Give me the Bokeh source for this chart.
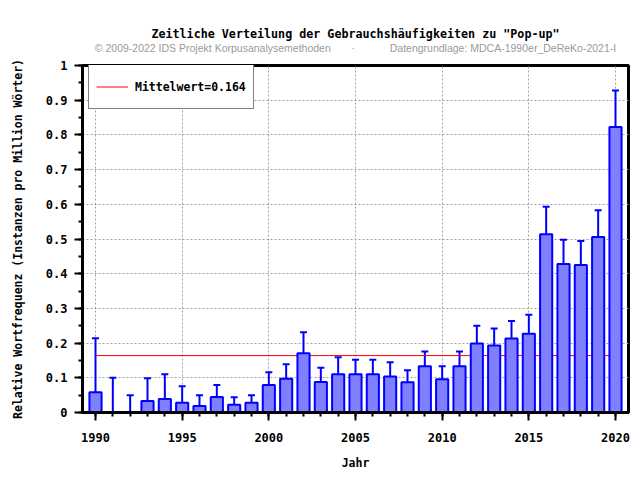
from bokeh.plotting import figure
from bokeh.models import (ColumnDataSource, Whisker, TeeHead, Legend, LegendItem, Title,
                          SingleIntervalTicker, NumeralTickFormatter, Range1d)
from bokeh.embed import file_html
from bokeh.resources import INLINE

years = list(range(1990, 2021))
freq = [0.058, 0.0, 0.0, 0.033, 0.039, 0.028, 0.019, 0.045, 0.022, 0.028,
        0.079, 0.097, 0.171, 0.088, 0.110, 0.110, 0.110, 0.104, 0.087, 0.133,
        0.096, 0.133, 0.199, 0.193, 0.213, 0.227, 0.514, 0.428, 0.425, 0.506,
        0.823]
lower = [0.015, 0.0, 0.0, 0.013, 0.013, 0.010, 0.005, 0.027, 0.010, 0.015,
         0.052, 0.064, 0.127, 0.058, 0.078, 0.078, 0.078, 0.078, 0.063, 0.101,
         0.067, 0.101, 0.162, 0.156, 0.171, 0.185, 0.452, 0.365, 0.362, 0.438,
         0.728]
upper = [0.214, 0.100, 0.050, 0.099, 0.110, 0.076, 0.050, 0.079, 0.044, 0.050,
         0.116, 0.139, 0.231, 0.129, 0.159, 0.152, 0.152, 0.145, 0.122, 0.176,
         0.133, 0.176, 0.250, 0.242, 0.264, 0.282, 0.593, 0.498, 0.494, 0.583,
         0.928]
mean_value = 0.164
legend_label = "Mittelwert=0.164"
title_text = 'Zeitliche Verteilung der Gebrauchshäufigkeiten zu "Pop-up"'
subtitle_text = ("© 2009-2022 IDS Projekt Korpusanalysemethoden"
                 + "\u00a0" * 7 + "·" + "\u00a0" * 12
                 + "Datengrundlage: MDCA-1990er_DeReKo-2021-I")
x_label = "Jahr"
y_label = "Relative Wortfrequenz (Instanzen pro Million Wörter)"

MONO = "DejaVu Sans Mono"

W, H = 632, 472
BL, BR, BT, BB = 82, 4, 65, 58
FW, FH = W - BL - BR, H - BT - BB

src = ColumnDataSource(dict(x=years, top=freq, lower=lower, upper=upper))

p = figure(width=W, height=H, output_backend="svg", toolbar_location=None,
           x_range=Range1d(1989.25, 2020.75), y_range=Range1d(0, 1),
           min_border_left=BL, min_border_right=BR, min_border_top=BT,
           min_border_bottom=BB, title=None)
p.background_fill_color = "white"
p.border_fill_color = "white"
p.outline_line_color = "black"
p.outline_line_width = 3

# titles: added from the frame outward (spacer, subtitle, title)
p.add_layout(Title(text="\u00a0", text_font_size="1px", standoff=10), "above")
p.add_layout(Title(text=subtitle_text, align="center", offset=2,
                   text_font="Liberation Sans", text_font_size="10.5px",
                   text_font_style="normal", text_color="#9a9a9a", standoff=-2),
             "above")
p.add_layout(Title(text=title_text, align="center", text_font=MONO,
                   text_font_size="11.7px", text_font_style="bold",
                   text_color="black", standoff=0), "above")

# grid
for g in (p.xgrid[0], p.ygrid[0]):
    g.grid_line_color = "#a0a0a0"
    g.grid_line_dash = "2 2"
    g.grid_line_width = 1

# axes
p.xaxis.ticker = SingleIntervalTicker(interval=5, num_minor_ticks=5)
p.yaxis.ticker = SingleIntervalTicker(interval=0.1, num_minor_ticks=2)
p.xgrid[0].ticker = p.xaxis.ticker
p.ygrid[0].ticker = p.yaxis.ticker
p.yaxis.formatter = NumeralTickFormatter(format="0.[0]")
for ax in (p.xaxis[0], p.yaxis[0]):
    ax.axis_line_width = 3
    ax.axis_line_color = "black"
    ax.major_tick_line_width = 2
    ax.minor_tick_line_width = 2
    ax.major_tick_line_color = "black"
    ax.minor_tick_line_color = "black"
    ax.major_tick_in = 0
    ax.minor_tick_in = 0
    ax.major_tick_out = 8
    ax.minor_tick_out = 4
    ax.major_label_text_font = MONO
    ax.major_label_text_font_style = "bold"
    ax.major_label_text_font_size = "12px"
    ax.major_label_text_color = "black"
    ax.axis_label_text_font = MONO
    ax.axis_label_text_font_style = "bold"
    ax.axis_label_text_font_size = "11.5px"
    ax.axis_label_text_color = "black"
p.xaxis.axis_label = x_label
p.yaxis.axis_label = y_label
p.xaxis.major_label_standoff = 12
p.xaxis.axis_label_standoff = 11
p.yaxis.major_label_standoff = 7
p.yaxis.axis_label_standoff = 18

# mean line
mean_r = p.line(x=[years[0], years[-1]], y=[mean_value, mean_value],
                line_color="#ff0000", line_width=1)

# bars
p.vbar(x="x", top="top", bottom=0, width=0.7, source=src,
       fill_color="#8080ff", line_color="#0000ff", line_width=2)

# error bars
wh = Whisker(source=src, base="x", upper="upper", lower="lower",
             line_color="#0000ff", line_width=2,
             upper_head=TeeHead(size=7, line_color="#0000ff", line_width=2),
             lower_head=TeeHead(size=7, line_color="#0000ff", line_width=2))
p.add_layout(wh)

legend = Legend(items=[LegendItem(label=legend_label, renderers=[mean_r])],
                location=(6, FH - 7 - 39), margin=0, padding=7, spacing=0,
                glyph_width=32, glyph_height=29, label_height=29,
                label_standoff=7, border_line_color="black", border_line_width=1,
                background_fill_color="white", background_fill_alpha=1,
                label_text_font=MONO, label_text_font_style="bold",
                label_text_font_size="11.5px", label_text_color="black")
p.add_layout(legend, "center")

open("out.html", "w").write(file_html(p, INLINE))
